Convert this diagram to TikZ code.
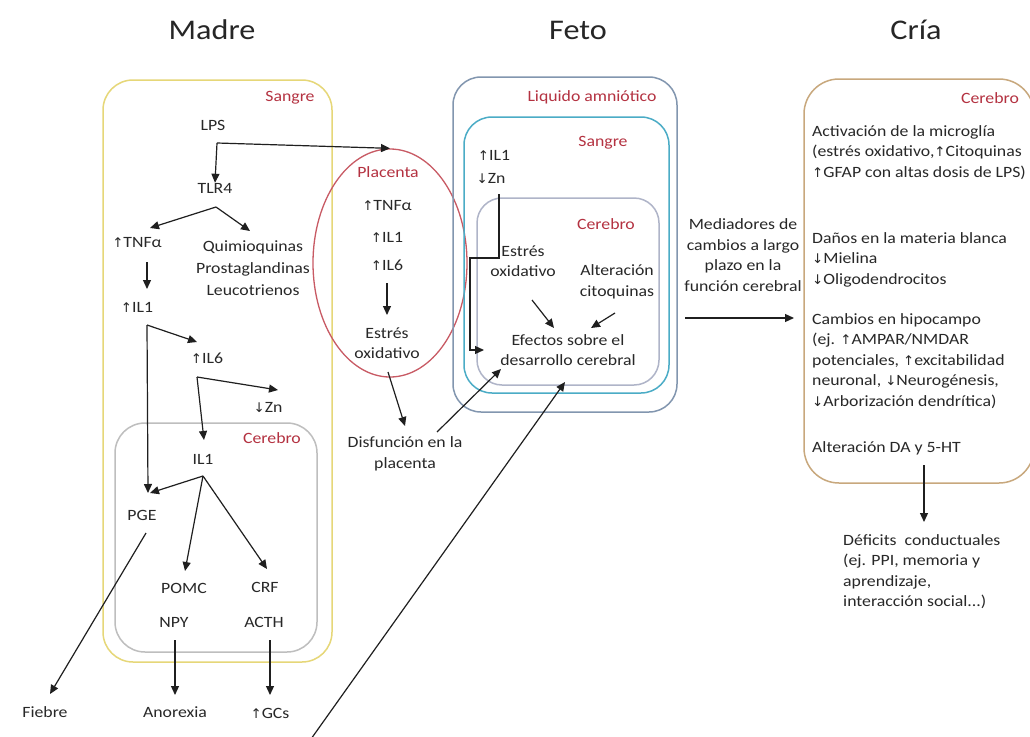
\documentclass[tikz,border=0pt]{standalone}
\usepackage{fontspec}
\setmainfont{Carlito}[FakeStretch=1.13]
\newfontfamily\symfont{DejaVu Sans}[Scale=0.85]
\usetikzlibrary{arrows.meta,shapes.geometric}
\definecolor{txtc}{RGB}{40,40,40}
\definecolor{lblred}{RGB}{180,50,65}
\definecolor{yelbox}{RGB}{230,215,120}
\definecolor{greybox}{RGB}{190,190,190}
\definecolor{plared}{RGB}{200,90,100}
\definecolor{outerbox}{RGB}{130,150,175}
\definecolor{tealbox}{RGB}{75,172,198}
\definecolor{fcbox}{RGB}{175,180,200}
\definecolor{tanbox}{RGB}{200,168,125}
\newcommand{\upa}{{\symfont ↑}}
\newcommand{\dna}{{\symfont ↓}}
\newcommand{\bodyfs}{\fontsize{15.7}{20.5}\selectfont}
\begin{document}
\begin{tikzpicture}[x=1pt,y=-1pt,
  t/.style={text=txtc, font=\bodyfs, inner sep=0pt, align=center},
  tl/.style={text=txtc, font=\bodyfs, inner sep=0pt, align=left, anchor=north west},
  lbl/.style={text=lblred, font=\bodyfs, inner sep=0pt},
  ttl/.style={text=black!85, font=\fontsize{28.5}{30}\selectfont, inner sep=0pt},
  arr/.style={-{Triangle[length=9pt,width=8pt]}, line width=1.2pt, draw=black!88},
  boxy/.style={line width=1.5pt, rounded corners=30pt}]
\useasboundingbox (0,0) rectangle (1030,736);
\fill[white] (0,0) rectangle (1030,736);

% titles
\node[ttl] (madreT) at (212,30) {Madre};
\node[ttl] (fetoT) at (578,30) {Feto};
\node[ttl] (criaT) at (916,30) {Cría};

% boxes
\draw[boxy, draw=yelbox] (103,80) rectangle (332,662);
\draw[boxy, draw=greybox] (115,423) rectangle (317,652);
\node[ellipse, draw=plared, line width=1.3pt, minimum width=154pt, minimum height=228pt, inner sep=0pt] (plac) at (390,263) {};
\draw[boxy, draw=outerbox, rounded corners=28pt] (453,77) rectangle (677,412);
\draw[boxy, draw=tealbox, rounded corners=28pt] (464,117) rectangle (669,393);
\draw[boxy, draw=fcbox, rounded corners=25pt] (477,198) rectangle (659,385);
\draw[boxy, draw=tanbox, rounded corners=35pt] (804,79) rectangle (1034,483);

% red labels
\node[lbl] (sangreM) at (290,98) {Sangre};
\node[lbl] (cerebroM) at (272,438) {Cerebro};
\node[lbl] (placL) at (388,172) {Placenta};
\node[lbl] (liqL) at (592,97) {Liquido amniótico};
\node[lbl] (sangreF) at (603,143) {Sangre};
\node[lbl] (cerebroF) at (606,224) {Cerebro};
\node[lbl] (cerebroC) at (990,98) {Cerebro};

% Madre
\node[t] (lps) at (213,125) {LPS};
\node[t] (tlr) at (215,188) {TLR4};
\node[t] (tnf) at (137,243) {\upa TNFα};
\node[t] (quim) at (253,268) {Quimioquinas\\[1.5pt]Prostaglandinas\\[1.5pt]Leucotrienos};
\node[t] (ilA) at (137,307) {\upa IL1};
\node[t] (ilS) at (207,358) {\upa IL6};
\node[t] (znM) at (268,407) {\dna Zn};
\node[t] (ilB) at (203,459) {IL1};
\node[t] (pge) at (142,515) {PGE};
\node[t] (pomc) at (184,588) {POMC};
\node[t] (crf) at (265,587) {CRF};
\node[t] (npy) at (174,622) {NPY};
\node[t] (acth) at (264,622) {ACTH};
\node[t] (fiebre) at (45,712) {Fiebre};
\node[t] (anor) at (175,712) {Anorexia};
\node[t] (gcs) at (270,713) {\upa GCs};

\coordinate (j1) at (217,143);
\coordinate (j2) at (216,207);
\coordinate (tnfIn) at (150,228);
\coordinate (quimIn) at (250,231);
\coordinate (tnfOut) at (147,262);
\coordinate (ilAIn) at (147,289);
\coordinate (j3) at (147,325);
\coordinate (ilSIn) at (197,342);
\coordinate (pgeIn) at (148,493);
\coordinate (j4) at (197,377);
\coordinate (znIn) at (278,390);
\coordinate (ilBIn) at (204,440);
\coordinate (j5) at (203,476);
\coordinate (pgeIn2) at (150,493);
\coordinate (pomcIn) at (185,571);
\coordinate (crfIn) at (267,569);
\coordinate (pgeOut) at (146,533);
\coordinate (fiebreIn) at (50,694);
\coordinate (npyOut) at (175,640);
\coordinate (anorIn) at (175,695);
\coordinate (acthOut) at (270,640);
\coordinate (gcsIn) at (270,695);

\draw[arr] (j1) -- (tlr.north);
\draw[arr] (j1) -- (plac.north);
\draw[arr] (j2) -- (tnfIn);
\draw[arr] (j2) -- (quimIn);
\draw[arr] (tnfOut) -- (ilAIn);
\draw[arr] (j3) -- (ilSIn);
\draw[arr] (j3) -- (pgeIn);
\draw[arr] (j4) -- (znIn);
\draw[arr] (j4) -- (ilBIn);
\draw[arr] (j5) -- (pgeIn2);
\draw[arr] (j5) -- (pomcIn);
\draw[arr] (j5) -- (crfIn);
\draw[arr] (pgeOut) -- (fiebreIn);
\draw[arr] (npyOut) -- (anorIn);
\draw[arr] (acthOut) -- (gcsIn);

% Placenta
\node[t] (ptnf) at (387,206) {\upa TNFα};
\node[t] (pil1) at (387,237) {\upa IL1};
\node[t] (pil6) at (387,265) {\upa IL6};
\node[t] (pestr) at (387,343) {Estrés\\oxidativo};
\node[t] (disf) at (405,454) {Disfunción en la\\placenta};
\coordinate (pil6Out) at (387,283);
\coordinate (pestrIn) at (387,315);
\coordinate (pestrOut) at (388,372);
\coordinate (disfIn) at (405,426);
\coordinate (disfOut) at (437,432);
\coordinate (efeL) at (501,369);
\draw[arr] (pil6Out) -- (pestrIn);
\draw[arr] (pestrOut) -- (disfIn);
\draw[arr] (disfOut) -- (efeL);

% long arrow from the bottom
\coordinate (longS) at (311,739);
\coordinate (efeB) at (565,382);
\draw[arr] (longS) -- (efeB);

% Feto
\node[t] (fil1) at (494,155) {\upa IL1};
\node[t] (fzn) at (491,178) {\dna Zn};
\node[t] (festr) at (523,261) {Estrés\\oxidativo};
\node[t] (falt) at (617,282) {Alteración\\citoquinas};
\node[t] (fefe) at (568,350) {Efectos sobre el\\desarrollo cerebral};
\coordinate (fznOut) at (499,194);
\coordinate (b1) at (499,258);
\coordinate (b2) at (470,258);
\coordinate (b3) at (470,350);
\coordinate (efeIn) at (484,350);
\draw[arr] (fznOut) -- (b1) -- (b2) -- (b3) -- (efeIn);
\coordinate (festrOut) at (532,300);
\coordinate (efeT1) at (554,328);
\coordinate (faltOut) at (615,313);
\coordinate (efeT2) at (591,328);
\draw[arr] (festrOut) -- (efeT1);
\draw[arr] (faltOut) -- (efeT2);

% Mediadores
\node[t] (med) at (743,255) {Mediadores de\\cambios a largo\\plazo en la\\función cerebral};
\coordinate (medS) at (685,318);
\coordinate (criaIn) at (794,318);
\draw[arr] (medS) -- (criaIn);

% Cria
\node[tl] (c1) at (812,125) {Activación de la microglía\\(estrés oxidativo,\upa Citoquinas\\\upa GFAP con altas dosis de LPS)};
\node[tl] (c2) at (812,232) {Daños en la materia blanca\\\dna Mielina\\\dna Oligodendrocitos};
\node[tl] (c3) at (812,313) {Cambios en hipocampo\\(ej. \upa AMPAR/NMDAR\\potenciales, \upa excitabilidad\\neuronal, \dna Neurogénesis,\\\dna Arborización dendrítica)};
\node[tl] (c4) at (812,441) {Alteración DA y 5-HT};
\node[tl] (def) at (843,534) {Déficits\ \ conductuales\\(ej. PPI, memoria y\\aprendizaje,\\interacción social...)};
\coordinate (criaOut) at (924,465);
\coordinate (defIn) at (924,522);
\draw[arr] (criaOut) -- (defIn);
\end{tikzpicture}
\end{document}
